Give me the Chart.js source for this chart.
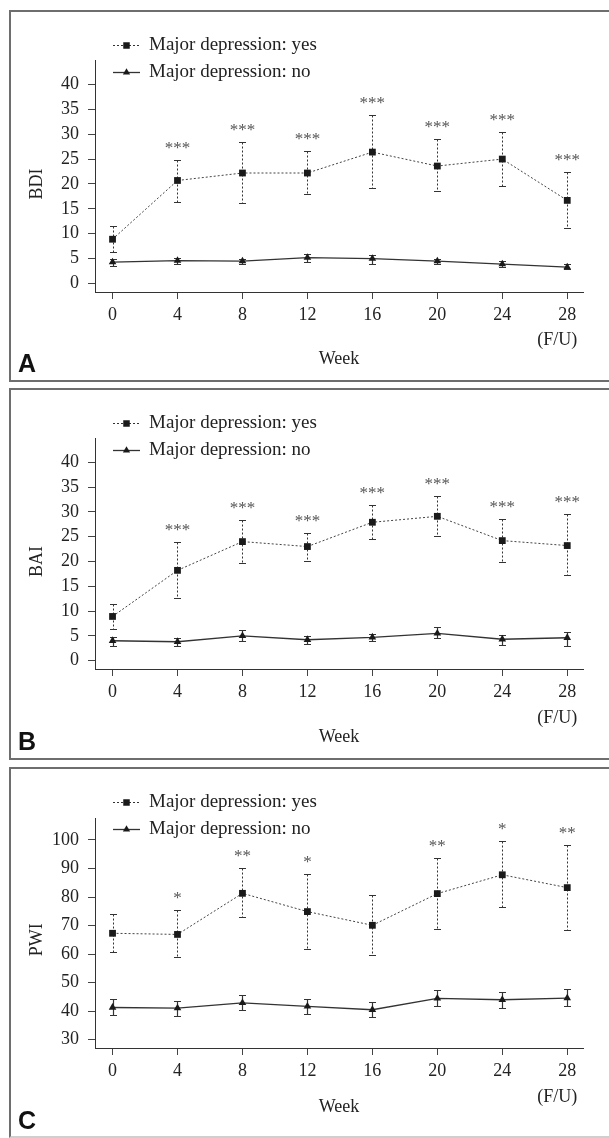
<!DOCTYPE html>
<html>
<head>
<meta charset="utf-8">
<script src="https://cdn.jsdelivr.net/npm/chart.js@4.4.1/dist/chart.umd.min.js"></script>
<style>
  html, body { margin: 0; padding: 0; background: #fff; width: 609px; height: 1138px; overflow: hidden; }
  .panel { position: absolute; left: 9px; width: 640px; border: 2px solid #6e6e6e; box-sizing: border-box; }
  .panel canvas { position: absolute; left: -2px; top: -2px; }
</style>
</head>
<body>
<div class="panel" id="pA" style="top:10px;height:372px"><canvas id="cA" width="600" height="372"></canvas></div>
<div class="panel" id="pB" style="top:388px;height:372px"><canvas id="cB" width="600" height="372"></canvas></div>
<div class="panel" id="pC" style="top:767px;height:371px;border-bottom-color:#cfcfcf"><canvas id="cC" width="600" height="371"></canvas></div>
<script>
(() => {
  // Semanas (eje x)
  const weeks = [0, 4, 8, 12, 16, 20, 24, 28];

  // A - BDI
  const bdiTicks = [0, 5, 10, 15, 20, 25, 30, 35, 40];
  const bdiYes   = [8.9, 20.7, 22.2, 22.2, 26.4, 23.6, 25.0, 16.7];
  const bdiYesHi = [11.6, 24.9, 28.5, 26.7, 33.8, 29.1, 30.5, 22.4];
  const bdiYesLo = [6.3, 16.3, 16.1, 17.9, 19.2, 18.5, 19.6, 11.1];
  const bdiNo    = [4.3, 4.6, 4.5, 5.2, 5.0, 4.5, 3.9, 3.3];
  const bdiNoHi  = [5.0, 5.2, 5.0, 5.9, 5.7, 5.0, 4.5, 3.9];
  const bdiNoLo  = [3.5, 4.0, 3.9, 4.4, 4.0, 3.9, 3.4, 2.9];
  const bdiStars = ['', '***', '***', '***', '***', '***', '***', '***'];

  // B - BAI
  const baiTicks = [0, 5, 10, 15, 20, 25, 30, 35, 40];
  const baiYes   = [8.9, 18.2, 24.0, 23.0, 27.9, 29.1, 24.2, 23.2];
  const baiYesHi = [11.5, 23.9, 28.3, 25.7, 31.3, 33.2, 28.6, 29.6];
  const baiYesLo = [6.4, 12.6, 19.7, 20.1, 24.5, 25.2, 19.8, 17.2];
  const baiNo    = [4.0, 3.8, 5.0, 4.2, 4.7, 5.5, 4.3, 4.6];
  const baiNoHi  = [4.8, 4.6, 6.2, 4.9, 5.4, 6.7, 5.2, 5.7];
  const baiNoLo  = [3.0, 3.0, 4.0, 3.4, 4.0, 4.5, 3.2, 3.0];
  const baiStars = ['', '***', '***', '***', '***', '***', '***', '***'];

  // C - PWI
  const pwiTicks = [30, 40, 50, 60, 70, 80, 90, 100];
  const pwiYes   = [67.3, 66.9, 81.3, 74.9, 70.1, 81.2, 87.8, 83.3];
  const pwiYesHi = [73.9, 75.6, 90.1, 88.0, 80.8, 93.6, 99.6, 98.4];
  const pwiYesLo = [60.6, 59.0, 73.1, 61.9, 59.8, 68.7, 76.5, 68.3];
  const pwiNo    = [41.3, 41.1, 42.9, 41.7, 40.5, 44.5, 44.0, 44.6];
  const pwiNoHi  = [44.1, 43.7, 45.5, 44.1, 43.2, 47.4, 46.7, 47.8];
  const pwiNoLo  = [38.5, 38.3, 40.3, 39.1, 37.8, 41.8, 41.2, 41.8];
  const pwiStars = ['', '*', '**', '*', '', '**', '*', '**'];

  const legendYes = 'Major depression: yes';
  const legendNo  = 'Major depression: no';

  const serif = '"Liberation Serif", "Times New Roman", "DejaVu Serif", serif';
  Chart.defaults.font.family = serif;
  Chart.defaults.color = '#222';

  const panels = [
    { canvas: 'cA', letter: 'A', title: 'BDI', yMin: -1.7, yMax: 44.9, yTicks: bdiTicks,
      yes: bdiYes, yesHi: bdiYesHi, yesLo: bdiYesLo, no: bdiNo, noHi: bdiNoHi, noLo: bdiNoLo, stars: bdiStars,
      h: 372, top: 50, bottom: 282, weekPad: 12 },
    { canvas: 'cB', letter: 'B', title: 'BAI', yMin: -1.7, yMax: 44.9, yTicks: baiTicks,
      yes: baiYes, yesHi: baiYesHi, yesLo: baiYesLo, no: baiNo, noHi: baiNoHi, noLo: baiNoLo, stars: baiStars,
      h: 372, top: 50, bottom: 281, weekPad: 12 },
    { canvas: 'cC', letter: 'C', title: 'PWI', yMin: 27.1, yMax: 107.7, yTicks: pwiTicks,
      yes: pwiYes, yesHi: pwiYesHi, yesLo: pwiYesLo, no: pwiNo, noHi: pwiNoHi, noLo: pwiNoLo, stars: pwiStars,
      h: 371, top: 51, bottom: 281, weekPad: 20 }
  ];

  const marker = (ctx, style, r, x, y) => {
    ctx.fillStyle = '#1a1a1a';
    if (Chart.helpers && Chart.helpers.drawPoint) {
      Chart.helpers.drawPoint(ctx, { pointStyle: style, radius: r, rotation: 0, borderWidth: 0 }, x, y);
    } else {
      ctx.fillRect(x - 3, y - 3, 6, 6);
    }
  };

  function makeDecor(p) {
    const bars = [
      { hi: p.yesHi, lo: p.yesLo, dash: [2, 2], width: 1, color: '#333' },
      { hi: p.noHi, lo: p.noLo, dash: [], width: 1.2, color: '#333' }
    ];
    return {
      id: 'decor' + p.letter,
      beforeDatasetsDraw(chart) {
        const { ctx, scales: { x, y } } = chart;
        ctx.save();
        bars.forEach(b => {
          ctx.strokeStyle = b.color;
          weeks.forEach((w, i) => {
            const px = Math.round(x.getPixelForValue(w)) + 0.5;
            const yh = Math.round(y.getPixelForValue(b.hi[i])) + 0.5;
            const yl = Math.round(y.getPixelForValue(b.lo[i])) + 0.5;
            ctx.lineWidth = b.width;
            ctx.setLineDash(b.dash);
            ctx.beginPath(); ctx.moveTo(px, yh); ctx.lineTo(px, yl); ctx.stroke();
            ctx.setLineDash([]);
            ctx.lineWidth = 1;
            ctx.beginPath();
            ctx.moveTo(px - 3.5, yh); ctx.lineTo(px + 3.5, yh);
            ctx.moveTo(px - 3.5, yl); ctx.lineTo(px + 3.5, yl);
            ctx.stroke();
          });
        });
        ctx.restore();
      },
      afterDraw(chart) {
        const { ctx, scales: { x, y } } = chart;
        ctx.save();

        // asteriscos de significancia
        ctx.fillStyle = '#555';
        ctx.font = '17px ' + serif;
        ctx.textAlign = 'center';
        ctx.textBaseline = 'alphabetic';
        weeks.forEach((w, i) => {
          if (p.stars[i]) ctx.fillText(p.stars[i], x.getPixelForValue(w), y.getPixelForValue(p.yesHi[i]) - 7);
        });

        // (F/U) debajo de la ultima semana
        ctx.fillStyle = '#222';
        ctx.font = '18px ' + serif;
        const last = weeks[weeks.length - 1];
        const lw = ctx.measureText(String(last)).width;
        ctx.textAlign = 'right';
        ctx.textBaseline = 'middle';
        ctx.fillText('(F/U)', x.getPixelForValue(last) + lw / 2 + 1, 330);

        // titulo eje y, centrado en el rango de ticks
        const yc = (y.getPixelForValue(p.yTicks[0]) + y.getPixelForValue(p.yTicks[p.yTicks.length - 1])) / 2;
        ctx.save();
        ctx.translate(28, yc);
        ctx.rotate(-Math.PI / 2);
        ctx.textAlign = 'center';
        ctx.fillText(p.title, 0, 0);
        ctx.restore();

        // leyenda
        const rows = [
          { y: 35, dash: [2, 2], lw: 1, style: 'rect', r: 4.6, text: legendYes },
          { y: 62, dash: [], lw: 1.3, style: 'triangle', r: 4.2, text: legendNo }
        ];
        rows.forEach(r => {
          ctx.strokeStyle = '#333';
          ctx.lineWidth = r.lw;
          ctx.setLineDash(r.dash);
          ctx.beginPath(); ctx.moveTo(104, r.y + 0.5); ctx.lineTo(131, r.y + 0.5); ctx.stroke();
          ctx.setLineDash([]);
          marker(ctx, r.style, r.r, 117.5, r.y + 0.5);
          ctx.fillStyle = '#222';
          ctx.font = '19px ' + serif;
          ctx.textAlign = 'left';
          ctx.textBaseline = 'middle';
          ctx.fillText(r.text, 140, r.y);
        });

        // letra del panel
        ctx.fillStyle = '#111';
        ctx.font = 'bold 25px "Liberation Sans", Arial, sans-serif';
        ctx.textAlign = 'left';
        ctx.textBaseline = 'alphabetic';
        ctx.fillText(p.letter, 9, 362);

        ctx.restore();
      }
    };
  }

  panels.forEach(p => {
    const ctx = document.getElementById(p.canvas).getContext('2d');
    new Chart(ctx, {
      type: 'scatter',
      data: {
        datasets: [{
          label: legendYes,
          data: weeks.map((w, i) => ({ x: w, y: p.yes[i] })),
          showLine: true, borderColor: '#444', borderWidth: 1, borderDash: [2, 2],
          pointStyle: 'rect', pointRadius: 4.8, pointBorderWidth: 0,
          pointBackgroundColor: '#1a1a1a', pointBorderColor: '#1a1a1a'
        }, {
          label: legendNo,
          data: weeks.map((w, i) => ({ x: w, y: p.no[i] })),
          showLine: true, borderColor: '#333', borderWidth: 1.3,
          pointStyle: 'triangle', pointRadius: 4.4, pointBorderWidth: 0,
          pointBackgroundColor: '#1a1a1a', pointBorderColor: '#1a1a1a'
        }]
      },
      options: {
        responsive: false,
        animation: false,
        devicePixelRatio: 1,
        layout: { padding: { left: 0, right: 26, top: p.top, bottom: 0 } },
        plugins: { legend: { display: false }, tooltip: { enabled: false } },
        scales: {
          x: {
            type: 'linear', min: -1.08, max: 28.97,
            afterBuildTicks: s => { s.ticks = weeks.map(v => ({ value: v })); },
            afterFit: s => { s.height = p.h - p.bottom; },
            grid: { drawOnChartArea: false, drawTicks: true, tickLength: 7, color: '#444', lineWidth: 1 },
            border: { display: true, color: '#333', width: 1 },
            ticks: { color: '#222', font: { size: 18 }, padding: 5, maxRotation: 0, autoSkip: false },
            title: { display: true, text: 'Week', color: '#222', font: { size: 18 }, padding: { top: 0, bottom: p.weekPad } }
          },
          y: {
            type: 'linear', min: p.yMin, max: p.yMax,
            afterBuildTicks: s => { s.ticks = p.yTicks.map(v => ({ value: v })); },
            afterFit: s => { s.width = 86; },
            grid: { drawOnChartArea: false, drawTicks: true, tickLength: 7, color: '#444', lineWidth: 1 },
            border: { display: true, color: '#333', width: 1 },
            ticks: { color: '#222', font: { size: 18 }, padding: 9, autoSkip: false }
          }
        }
      },
      plugins: [makeDecor(p)]
    });
  });
})();
</script>
</body>
</html>
